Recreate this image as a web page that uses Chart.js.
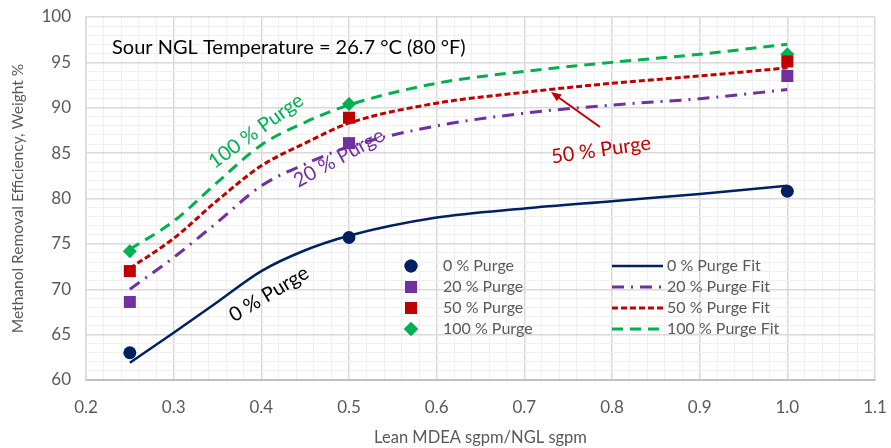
<!DOCTYPE html>
<html>
<head>
<meta charset="utf-8">
<script src="https://cdn.jsdelivr.net/npm/chart.js@4"></script>
<style>
  html, body { margin: 0; padding: 0; background: #fff; }
</style>
</head>
<body>
<canvas id="grafico" width="891" height="448"></canvas>
<script>
// measured points
const ratioPoints = [0.25, 0.5, 1.0];
const purge0 = [63.0, 75.7, 80.8];
const purge20 = [68.6, 86.1, 93.5];
const purge50 = [72.0, 88.9, 95.1];
const purge100 = [74.2, 90.4, 95.9];

// fitted curves
const fitX = [0.25, 0.3, 0.35, 0.4, 0.45, 0.5, 0.6, 0.7, 0.8, 0.9, 1.0];
const fit0 = [61.9, 65.2, 68.6, 72.0, 74.3, 75.9, 77.9, 78.9, 79.7, 80.5, 81.4];
const fit20 = [70.0, 73.5, 77.4, 81.4, 83.8, 85.7, 88.0, 89.4, 90.3, 91.0, 92.0];
const fit50 = [72.3, 75.6, 79.8, 83.6, 86.1, 88.3, 90.5, 91.7, 92.7, 93.5, 94.4];
const fit100 = [74.4, 77.5, 81.8, 85.9, 88.4, 90.3, 92.7, 94.0, 95.0, 95.9, 97.0];

const FONT = "Lato, 'Open Sans', sans-serif";

const pts = (xs, ys) => xs.map((x, i) => ({ x: x, y: ys[i] }));

const scatterSet = (label, data, color, style, radius) => ({
  label, data: pts(ratioPoints, data), showLine: false,
  pointStyle: style, pointRadius: radius, pointHoverRadius: radius,
  backgroundColor: color, borderColor: color, pointBorderWidth: 0, order: 0
});

const fitSet = (label, data, color, dash, width) => ({
  label, data: pts(fitX, data), showLine: true, pointRadius: 0,
  borderColor: color, backgroundColor: color, borderWidth: width,
  borderDash: dash, cubicInterpolationMode: 'monotone', fill: false, order: 1
});

const isMajorX = v => Math.round(v * 100) % 10 === 0;
const isMajorY = v => Math.round(v) % 5 === 0;

// annotations, custom legend
const extras = {
  id: 'extras',
  afterDatasetsDraw(chart) {
    const c = chart.ctx;
    c.save();
    c.textBaseline = 'middle';

    c.fillStyle = '#000';
    c.font = `20px ${FONT}`;
    c.textAlign = 'left';
    c.fillText('Sour NGL Temperature = 26.7 °C (80 °F)', 112, 48);

    const rot = (txt, x, y, deg, color) => {
      c.save();
      c.translate(x, y);
      c.rotate(deg * Math.PI / 180);
      c.fillStyle = color;
      c.font = `20px ${FONT}`;
      c.textAlign = 'center';
      c.fillText(txt, 0, 0);
      c.restore();
    };
    rot('100 % Purge', 256, 131, -36, '#00b050');
    rot('20 % Purge', 339, 158, -29, '#7030a0');
    rot('0 % Purge', 269, 294, -31, '#000');
    rot('50 % Purge', 601, 150, -8, '#c00000');

    // arrow to 50 % line
    const x0 = 600, y0 = 127, x1 = 551, y1 = 92;
    const a = Math.atan2(y1 - y0, x1 - x0);
    c.strokeStyle = '#c00000';
    c.fillStyle = '#c00000';
    c.lineWidth = 2;
    c.beginPath();
    c.moveTo(x0, y0);
    c.lineTo(x1 - 6 * Math.cos(a), y1 - 6 * Math.sin(a));
    c.stroke();
    c.beginPath();
    c.moveTo(x1, y1);
    c.lineTo(x1 - 11 * Math.cos(a - 0.4), y1 - 11 * Math.sin(a - 0.4));
    c.lineTo(x1 - 11 * Math.cos(a + 0.4), y1 - 11 * Math.sin(a + 0.4));
    c.closePath();
    c.fill();

    // legend
    const rows = [266, 287, 308, 329];
    c.font = `16px ${FONT}`;
    c.textAlign = 'left';
    let li = 0, ri = 0;
    chart.data.datasets.forEach(ds => {
      if (!ds.showLine) {
        const y = rows[li++];
        c.fillStyle = ds.backgroundColor;
        Chart.helpers.drawPoint(c, { pointStyle: ds.pointStyle, radius: ds.pointRadius, borderWidth: 0 }, 411, y);
        c.fill();
        c.fillStyle = '#595959';
        c.fillText(ds.label, 443, y);
      } else {
        const y = rows[ri++];
        c.strokeStyle = ds.borderColor;
        c.lineWidth = ds.borderWidth;
        c.setLineDash(ds.borderDash || []);
        c.beginPath();
        c.moveTo(612, y);
        c.lineTo(663, y);
        c.stroke();
        c.setLineDash([]);
        c.fillStyle = '#595959';
        c.fillText(ds.label, 667, y);
      }
    });
    c.restore();
  }
};

new Chart(document.getElementById('grafico'), {
  type: 'scatter',
  data: {
    datasets: [
      scatterSet('0 % Purge', purge0, '#002060', 'circle', 6.5),
      scatterSet('20 % Purge', purge20, '#7030a0', 'rect', 8.5),
      scatterSet('50 % Purge', purge50, '#c00000', 'rect', 8.5),
      scatterSet('100 % Purge', purge100, '#00b050', 'rectRot', 7),
      fitSet('0 % Purge Fit', fit0, '#002060', [], 2.5),
      fitSet('20 % Purge Fit', fit20, '#7030a0', [12, 7, 2, 7], 3),
      fitSet('50 % Purge Fit', fit50, '#c00000', [6, 3], 3),
      fitSet('100 % Purge Fit', fit100, '#00b050', [11, 7], 3)
    ]
  },
  options: {
    responsive: false,
    animation: false,
    devicePixelRatio: 1,
    layout: { padding: { top: 17, right: 16, left: 0, bottom: 0 } },
    plugins: { legend: { display: false }, tooltip: { enabled: false } },
    scales: {
      x: {
        type: 'linear', min: 0.2, max: 1.1,
        afterFit: s => { s.height = 68; s.paddingLeft = 0; s.paddingRight = 0; },
        ticks: {
          stepSize: 0.02, autoSkip: false, maxRotation: 0, padding: 17,
          color: '#595959', font: { family: FONT, size: 17 },
          callback: v => isMajorX(v) ? v.toFixed(1) : ''
        },
        grid: {
          drawTicks: false,
          color: ctx => isMajorX(ctx.tick.value) ? '#d9d9d9' : '#f0f0f0',
          lineWidth: ctx => isMajorX(ctx.tick.value) ? 1.5 : 1
        },
        border: { color: '#bfbfbf', width: 2 },
        title: {
          display: true, text: 'Lean MDEA sgpm/NGL sgpm', color: '#595959',
          font: { family: FONT, size: 16.5 }, padding: { top: 6, bottom: 0 }
        }
      },
      y: {
        min: 60, max: 100,
        afterFit: s => { s.width = 86; s.paddingTop = 0; s.paddingBottom = 0; },
        ticks: {
          stepSize: 1, autoSkip: false, padding: 15,
          color: '#595959', font: { family: FONT, size: 17 },
          callback: v => isMajorY(v) ? String(Math.round(v)) : ''
        },
        grid: {
          drawTicks: false,
          color: ctx => isMajorY(ctx.tick.value) ? '#d9d9d9' : '#f0f0f0',
          lineWidth: ctx => isMajorY(ctx.tick.value) ? 1.5 : 1
        },
        border: { color: '#d9d9d9', width: 1.5 },
        title: {
          display: true, text: 'Methanol Removal Efficiency, Weight %', color: '#595959',
          font: { family: FONT, size: 15.5 }, padding: { top: 9, bottom: 0 }
        }
      }
    }
  },
  plugins: [extras]
});
</script>
</body>
</html>
